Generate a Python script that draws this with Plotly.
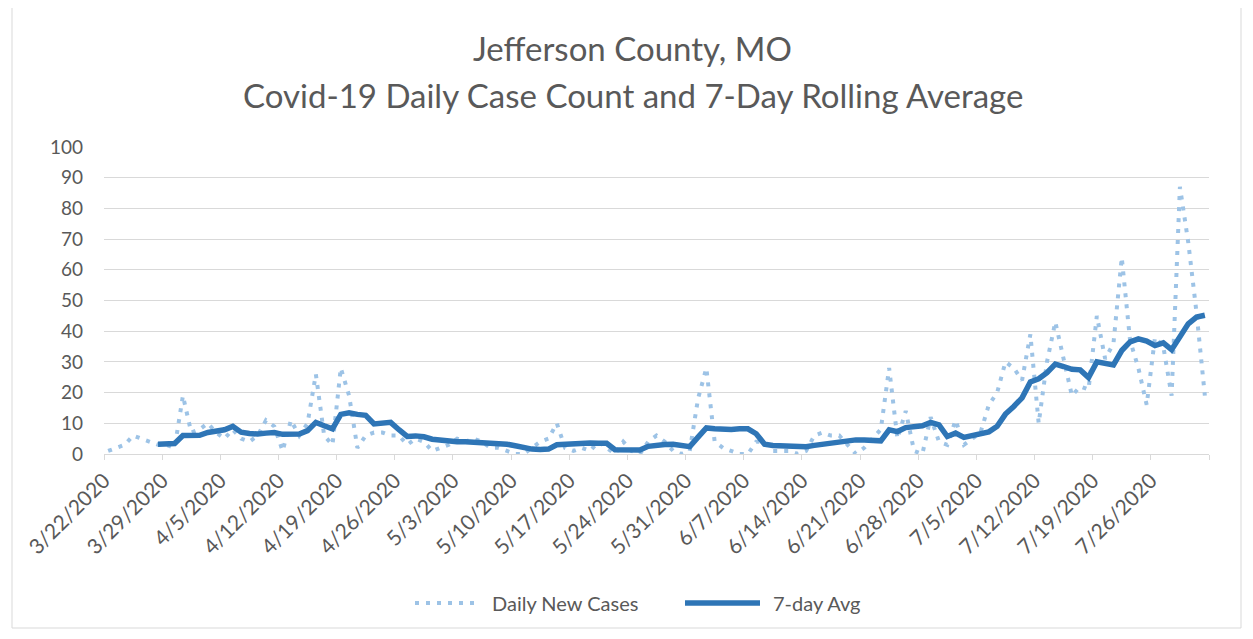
import pandas as pd
import plotly.graph_objects as go

# ---------------- data ----------------
start_date = "2020-03-22"
daily_new_cases = [
    1, 2, 3, 6, 5, 4, 3, 3, 2, 19,
    7, 8, 10, 7, 5, 8, 5, 4, 6, 11,
    9, 1, 11, 6, 10, 26, 6, 3, 28, 19,
    2, 6, 7, 7, 6, 6, 3, 5, 4, 1,
    2, 3, 5, 4, 5, 4, 2, 2, 1, 0,
    0, 2, 4, 5, 10, 2, 1, 2, 1, 4,
    2, 0, 4, 1, 0, 4, 6, 4, 1, 0,
    1, 18, 28, 4, 2, 1, 0, 0, 4, 4,
    1, 1, 1, 0, 1, 6, 7, 6, 6, 3,
    0, 2, 5, 8, 28, 5, 14, 1, 0, 12,
    4, 3, 11, 3, 5, 7, 16, 20, 30, 28,
    24, 39, 10, 30, 43, 31, 19, 22, 21, 45,
    31, 36, 64, 37, 28, 16, 38, 35, 19, 87,
    69, 46, 19,
]

avg_start_date = "2020-03-28"
seven_day_avg = [
    3.2, 3.3, 3.4, 6.0, 6.0, 6.1, 7.0, 7.5, 7.9, 9.0,
    7.1, 6.7, 6.5, 6.8, 7.0, 6.4, 6.4, 6.5, 7.6, 10.3,
    9.2, 8.2, 12.9, 13.4, 12.9, 12.6, 9.8, 10.0, 10.3, 7.9,
    5.7, 5.9, 5.6, 4.8, 4.4, 4.1, 4.0, 4.0, 4.0, 3.7,
    3.5, 3.4, 3.2, 2.7, 2.1, 1.6, 1.5, 1.6, 3.0, 3.2,
    3.5, 3.8, 3.6, 3.5, 3.5, 1.4, 1.5, 1.5, 1.3, 2.5,
    3.0, 3.1, 3.2, 2.6, 2.4, 5.5, 8.5, 8.2, 7.9, 8.0,
    8.2, 8.2, 6.6, 3.2, 2.8, 2.6, 2.6, 2.5, 2.4, 2.8,
    3.2, 3.8, 4.2, 4.3, 4.6, 4.6, 4.5, 4.3, 7.9, 7.3,
    8.6, 8.8, 9.2, 10.3, 9.5, 5.7, 6.8, 5.4, 6.0, 7.0,
    7.2, 9.0, 13.0, 15.5, 18.3, 23.5, 24.5, 26.5, 29.3, 28.5,
    27.6, 27.4, 24.9, 30.0, 29.5, 29.0, 33.7, 36.5, 37.5, 36.8,
    35.3, 36.2, 34.0, 38.0, 42.4, 44.6, 45.2,
]

tick_dates = [
    "2020-03-22", "2020-03-29", "2020-04-05", "2020-04-12", "2020-04-19",
    "2020-04-26", "2020-05-03", "2020-05-10", "2020-05-17", "2020-05-24",
    "2020-05-31", "2020-06-07", "2020-06-14", "2020-06-21", "2020-06-28",
    "2020-07-05", "2020-07-12", "2020-07-19", "2020-07-26", "2020-08-02",
]
tick_labels = [
    "3/22/2020", "3/29/2020", "4/5/2020", "4/12/2020", "4/19/2020",
    "4/26/2020", "5/3/2020", "5/10/2020", "5/17/2020", "5/24/2020",
    "5/31/2020", "6/7/2020", "6/14/2020", "6/21/2020", "6/28/2020",
    "7/5/2020", "7/12/2020", "7/19/2020", "7/26/2020", "",
]

title_line1 = "Jefferson County, MO"
title_line2 = "Covid-19 Daily Case Count and 7-Day Rolling Average"
series_names = ["Daily New Cases", "7-day Avg"]

# ---------------- styling ----------------
FONT = "Lato"
TEXT_COLOR = "#595959"
GRID_COLOR = "#d9d9d9"
DAILY_COLOR = "#9dc3e6"
AVG_COLOR = "#2e75b6"

# points sit in the middle of each day slot (Excel date axis)
days = pd.date_range(start_date, periods=len(daily_new_cases), freq="D") + pd.Timedelta(hours=12)
avg_days = pd.date_range(avg_start_date, periods=len(seven_day_avg), freq="D") + pd.Timedelta(hours=12)

fig = go.Figure()
fig.add_trace(go.Scatter(
    x=days, y=daily_new_cases, mode="lines", name=series_names[0],
    line=dict(color=DAILY_COLOR, width=4, dash="4px,7px"),
    showlegend=False, hoverinfo="x+y",
))
fig.add_trace(go.Scatter(
    x=avg_days, y=seven_day_avg, mode="lines", name=series_names[1],
    line=dict(color=AVG_COLOR, width=5.5),
    showlegend=False, hoverinfo="x+y",
))

# plot area in page pixels: x 104..1209, y 147..454 ; page has 8px body margin
W, H = 1237, 623
ML, MR, MT, MB = 96, 36, 139, 177
PW = W - ML - MR
PH = H - MT - MB


def px_x(page_x):
    return (page_x - 8 - ML) / PW


def px_y(page_y):
    return (H - MB - (page_y - 8)) / PH


shapes = [
    # chart border
    dict(type="rect", xref="paper", yref="paper",
         x0=px_x(12), x1=px_x(1241), y0=px_y(628), y1=px_y(4),
         line=dict(color=GRID_COLOR, width=1), layer="below"),
    # legend samples
    dict(type="line", xref="paper", yref="paper",
         x0=px_x(415), x1=px_x(481), y0=px_y(603), y1=px_y(603),
         line=dict(color=DAILY_COLOR, width=4, dash="4px,7px")),
    dict(type="line", xref="paper", yref="paper",
         x0=px_x(685), x1=px_x(760), y0=px_y(603), y1=px_y(603),
         line=dict(color=AVG_COLOR, width=5.5)),
]

annotations = [
    dict(text=title_line1, xref="paper", yref="paper", x=px_x(632), y=px_y(48),
         showarrow=False, xanchor="center", yanchor="middle",
         font=dict(family=FONT, size=33, color=TEXT_COLOR)),
    dict(text=title_line2, xref="paper", yref="paper", x=px_x(633), y=px_y(95),
         showarrow=False, xanchor="center", yanchor="middle",
         font=dict(family=FONT, size=33, color=TEXT_COLOR)),
    dict(text=series_names[0], xref="paper", yref="paper", x=px_x(490), y=px_y(603),
         showarrow=False, xanchor="left", yanchor="middle",
         font=dict(family=FONT, size=20, color=TEXT_COLOR)),
    dict(text=series_names[1], xref="paper", yref="paper", x=px_x(771), y=px_y(603),
         showarrow=False, xanchor="left", yanchor="middle",
         font=dict(family=FONT, size=20, color=TEXT_COLOR)),
]

fig.update_layout(
    width=W, height=H, autosize=False,
    margin=dict(l=ML, r=MR, t=MT, b=MB, pad=0),
    paper_bgcolor="white", plot_bgcolor="white",
    font=dict(family=FONT, size=19, color=TEXT_COLOR),
    shapes=shapes, annotations=annotations,
    showlegend=False,
    xaxis=dict(
        type="date", range=[tick_dates[0], tick_dates[-1]],
        tickmode="array", tickvals=tick_dates, ticktext=tick_labels,
        tickangle=-45, ticks="outside", ticklen=5, tickcolor=GRID_COLOR,
        showline=True, linecolor=GRID_COLOR, linewidth=1,
        showgrid=False, zeroline=False,
        tickfont=dict(family=FONT, size=21, color=TEXT_COLOR),
    ),
    yaxis=dict(
        range=[0, 100], dtick=10, tick0=0,
        showgrid=True, gridcolor=GRID_COLOR, gridwidth=1,
        zeroline=False, showline=False, ticks="",
        ticklabelstandoff=20,
        tickfont=dict(family=FONT, size=19, color=TEXT_COLOR),
    ),
)

fig.write_html("out.html")
